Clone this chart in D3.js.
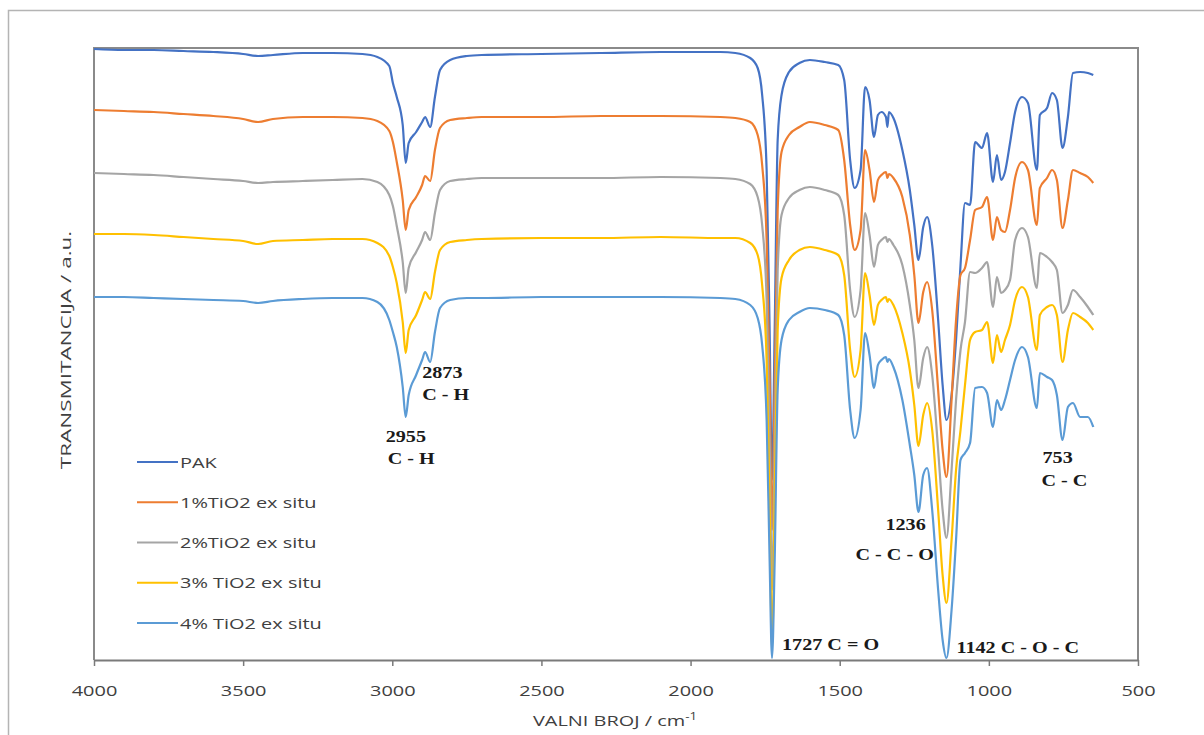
<!DOCTYPE html>
<html>
<head>
<meta charset="utf-8">
<script src="https://cdn.jsdelivr.net/npm/d3@7"></script>
<style>
  html, body { margin: 0; padding: 0; background: #ffffff; }
  svg { display: block; }
</style>
</head>
<body>
<svg id="chart" width="1204" height="735"></svg>
<script>
// ---- DATA ----
const wavenumbers = [
  4000, 3900, 3800, 3700, 3600, 3500, 3450, 3400, 3300, 3200,
  3100, 3050, 3010, 2998, 2985, 2965, 2955, 2945, 2920, 2900,
  2890, 2873, 2857, 2840, 2806, 2750, 2700, 2500, 2300, 2100,
  1900, 1850, 1800, 1775, 1760, 1745, 1735, 1727, 1718, 1708,
  1695, 1670, 1635, 1600, 1550, 1505, 1485, 1465, 1450, 1430,
  1415, 1400, 1385, 1372, 1360, 1345, 1340, 1335, 1320, 1290,
  1265, 1250, 1236, 1220, 1207, 1190, 1170, 1155, 1142, 1125,
  1110, 1095, 1080, 1063, 1046, 1023, 1006, 986, 973, 959,
  946, 929, 912, 889, 869, 839, 829, 805, 788, 772,
  753, 735, 718, 694, 668, 650
];

const pak = [
  61.1, 61.0, 61.0, 60.9, 60.8, 60.6, 60.4, 60.5, 60.7, 60.7,
  60.6, 60.3, 59.4, 57.7, 56.3, 53.5, 49.7, 51.7, 52.8, 53.8,
  54.3, 53.3, 56.3, 59.0, 60.0, 60.4, 60.5, 60.6, 60.7, 60.8,
  60.8, 60.7, 60.2, 59.2, 56.5, 49.0, 33.0, 18.0, 33.0, 52.0,
  56.5, 58.8, 59.7, 60.0, 59.8, 59.5, 58.0, 50.0, 47.2, 49.0,
  57.3, 56.0, 52.3, 54.5, 54.8, 54.3, 53.3, 54.8, 54.2, 51.0,
  47.0, 43.5, 40.0, 43.3, 44.3, 41.5, 34.0, 27.5, 24.0, 26.5,
  32.0, 39.5, 45.7, 45.5, 51.8, 51.2, 52.7, 47.8, 50.5, 48.0,
  48.8, 51.7, 54.8, 56.3, 55.7, 49.0, 54.5, 55.2, 56.7, 56.0,
  51.2, 54.3, 58.7, 58.8, 58.7, 58.5
];

const tio2_1 = [
  55.0, 54.9, 54.8, 54.6, 54.4, 54.1, 53.8, 54.1, 54.3, 54.3,
  54.2, 53.9, 52.9, 51.8, 49.8, 46.0, 43.0, 45.0, 46.3, 47.5,
  48.4, 47.9, 51.0, 53.2, 54.0, 54.2, 54.3, 54.3, 54.4, 54.4,
  54.3, 54.2, 53.8, 52.5, 49.5, 42.0, 28.0, 13.0, 27.0, 45.0,
  50.8, 52.5, 53.3, 53.8, 53.5, 53.0, 50.0, 43.5, 41.0, 43.0,
  51.0, 49.0, 45.8, 48.0, 48.5, 48.8, 48.2, 48.6, 48.2, 46.3,
  42.5, 38.5, 33.7, 36.8, 37.8, 35.0, 27.0, 21.0, 18.3, 26.0,
  34.0, 38.5, 39.2, 42.0, 45.0, 45.3, 46.3, 42.0, 44.3, 43.0,
  42.8, 45.0, 48.2, 49.8, 49.0, 43.5, 47.2, 48.2, 49.0, 48.0,
  43.2, 46.0, 49.0, 48.7, 48.3, 47.7
];

const tio2_2 = [
  48.7, 48.6, 48.5, 48.3, 48.1, 47.9, 47.7, 47.8, 47.9, 48.0,
  48.1, 47.8, 46.5, 45.4, 43.4, 39.8, 36.7, 39.2, 40.8, 42.0,
  42.8, 42.0, 44.7, 47.0, 47.9, 48.1, 48.2, 48.2, 48.2, 48.3,
  48.2, 48.1, 47.6, 46.3, 43.5, 36.0, 22.0, 7.0, 21.0, 39.0,
  44.5, 46.2, 47.0, 47.3, 47.0, 46.5, 44.5, 37.0, 34.3, 37.0,
  44.7, 42.5, 39.3, 41.5, 42.0, 42.3, 41.8, 42.1, 41.5, 39.5,
  35.5, 32.0, 27.2, 30.2, 31.3, 28.5, 21.0, 15.0, 12.2, 19.0,
  26.0, 31.0, 33.8, 38.8, 38.7, 39.2, 39.8, 35.3, 38.3, 36.7,
  37.0, 38.0, 42.0, 43.2, 42.3, 37.2, 40.7, 40.3, 39.8, 39.0,
  34.7, 35.5, 37.0, 36.3, 35.3, 34.5
];

const tio2_3 = [
  42.6, 42.6, 42.5, 42.3, 42.1, 41.9, 41.6, 41.9, 42.0, 42.1,
  42.1, 41.7, 40.4, 39.3, 37.7, 33.8, 30.7, 33.0, 34.5, 36.0,
  36.8, 36.1, 38.8, 41.0, 41.8, 42.0, 42.1, 42.2, 42.2, 42.3,
  42.2, 42.2, 41.7, 40.5, 37.5, 30.0, 16.0, 1.2, 16.0, 33.0,
  38.2, 40.0, 41.0, 41.3, 41.0, 40.5, 38.5, 31.0, 28.3, 31.0,
  38.7, 36.5, 33.5, 35.5, 36.0, 36.3, 35.8, 36.1, 35.5, 32.7,
  29.0, 25.5, 21.4, 24.5, 25.7, 23.0, 15.0, 8.5, 5.7, 12.0,
  19.0, 23.0, 27.5, 32.0, 32.8, 33.0, 33.8, 29.7, 32.5, 30.8,
  32.0, 33.5, 36.0, 37.3, 36.3, 31.0, 34.5, 35.3, 35.5, 34.5,
  29.8, 33.0, 34.7, 34.3, 33.7, 33.0
];

const tio2_4 = [
  36.3, 36.3, 36.2, 36.1, 36.0, 35.9, 35.7, 35.9, 36.1, 36.2,
  36.2, 35.8, 34.0, 32.8, 31.3, 27.3, 24.3, 26.5, 28.5, 30.0,
  30.8, 29.8, 32.8, 35.2, 36.0, 36.2, 36.2, 36.3, 36.3, 36.3,
  36.2, 36.1, 35.5, 34.2, 31.5, 24.0, 10.0, 0.2, 10.0, 27.0,
  32.0, 34.0, 34.8, 35.2, 35.0, 34.5, 32.5, 25.0, 22.2, 25.0,
  32.7, 30.5, 27.2, 29.5, 30.0, 30.3, 29.8, 30.1, 29.3, 26.0,
  21.5, 18.5, 14.8, 18.5, 19.2, 15.0, 7.0, 2.0, 0.2, 5.0,
  12.0, 20.0, 20.7, 21.7, 27.2, 27.3, 26.7, 23.3, 26.0, 25.0,
  26.0, 28.0, 30.0, 31.3, 30.3, 25.2, 28.7, 28.3, 28.0, 26.5,
  22.0, 25.3, 25.7, 24.3, 24.3, 23.3
];

const seriesNames = ["PAK", "1%TiO2 ex situ", "2%TiO2 ex situ", "3% TiO2 ex situ", "4% TiO2 ex situ"];
const seriesValues = [pak, tio2_1, tio2_2, tio2_3, tio2_4];
const seriesColors = ["#4472C4", "#ED7D31", "#A5A5A5", "#FFC000", "#5B9BD5"];
const xTicks = [4000, 3500, 3000, 2500, 2000, 1500, 1000, 500];

const annotations = [
  { lines: ["2873", "C - H"], wn: 2873, y: [28.2, 26.0] },
  { lines: ["2955", "C - H"], wn: 2955, y: [21.8, 19.6] },
  { lines: ["1236", "C - C - O"], wn: 1236, y: [13.0, 10.0] },
  { lines: ["753", "C - C"], wn: 753, y: [19.7, 17.4] },
  { lines: ["1727 C = O"], wn: 1727, y: [1.0] },
  { lines: ["1142 C - O - C"], wn: 1142, y: [0.7] }
];

// ---- LAYOUT ----
const svg = d3.select("#chart");
const M = { left: 94, right: 1138, top: 48, bottom: 660 };
const SX = 1.33; // horizontal stretch of the reference's lettering

const x = d3.scaleLinear().domain([4000, 500]).range([M.left, M.right]);
const y = d3.scaleLinear().domain([0, 61.2]).range([M.bottom, M.top]);

// outer chart frame
svg.append("rect")
  .attr("x", 8.5).attr("y", 10.5)
  .attr("width", 1210).attr("height", 740)
  .attr("fill", "#ffffff").attr("stroke", "#b4b4b4").attr("stroke-width", 1.5);

// plot border (left, top, right)
svg.append("path")
  .attr("d", `M${M.left},${M.bottom} V${M.top} H${M.right} V${M.bottom}`)
  .attr("fill", "none").attr("stroke", "#8a8a8a").attr("stroke-width", 2);

// series
const line = d3.line()
  .x(d => x(d[0]))
  .y(d => y(d[1]))
  .curve(d3.curveMonotoneX);

const plot = svg.append("g");
seriesValues.forEach((vals, i) => {
  const pts = wavenumbers.map((w, k) => [w, vals[k]]).filter(p => p[1] !== undefined);
  plot.append("path")
    .datum(pts)
    .attr("d", line)
    .attr("fill", "none")
    .attr("stroke", seriesColors[i])
    .attr("stroke-width", 2.2)
    .attr("stroke-linejoin", "round");
});

// x axis
const xAxis = d3.axisBottom(x).tickValues(xTicks).tickSize(6).tickSizeOuter(0).tickFormat(d3.format("d"));
const gx = svg.append("g").attr("transform", `translate(0,${M.bottom})`).call(xAxis);
gx.select(".domain").attr("stroke", "#7a7a7a").attr("stroke-width", 2);
gx.selectAll(".tick line").attr("stroke", "#7a7a7a").attr("stroke-width", 1.5);
gx.selectAll(".tick text")
  .attr("x", 0).attr("y", 36).attr("dy", 0)
  .attr("fill", "#404040")
  .style("font-family", "'Open Sans', sans-serif")
  .style("font-size", "15px")
  .attr("transform", `scale(${SX},1)`);

// x axis title
const xt = svg.append("text")
  .attr("transform", `translate(615,726) scale(${SX},1)`)
  .attr("text-anchor", "middle")
  .attr("fill", "#404040")
  .style("font-family", "'Open Sans', sans-serif")
  .style("font-size", "15px");
xt.append("tspan").text("VALNI BROJ / cm");
xt.append("tspan").text("-1").attr("dy", -6).style("font-size", "10px");

// y axis title
svg.append("text")
  .attr("transform", `translate(71,350) rotate(-90) scale(1.5,1)`)
  .attr("text-anchor", "middle")
  .attr("fill", "#404040")
  .style("font-family", "'Open Sans', sans-serif")
  .style("font-size", "15px")
  .text("TRANSMITANCIJA / a.u.");

// legend
const legend = svg.append("g");
const legendY = d3.scalePoint().domain(seriesNames).range([462, 623]);
seriesNames.forEach((name, i) => {
  const ly = legendY(name);
  legend.append("line")
    .attr("x1", 137).attr("x2", 178).attr("y1", ly).attr("y2", ly)
    .attr("stroke", seriesColors[i]).attr("stroke-width", 2.2);
  legend.append("text")
    .attr("transform", `translate(180,${ly + 5.5}) scale(${SX},1)`)
    .attr("fill", "#404040")
    .style("font-family", "'Open Sans', sans-serif")
    .style("font-size", "15px")
    .text(name);
});

// peak annotations
const annOffsets = { 2873: [-8, -8], 2955: [-20, -18], 1236: [-33, -63], 753: [-20, -21], 1727: [10], 1142: [10] };
annotations.forEach(a => {
  a.lines.forEach((t, j) => {
    const dx = annOffsets[a.wn][j];
    svg.append("text")
      .attr("transform", `translate(${x(a.wn) + dx},${y(a.y[j])}) scale(1.26,1)`)
      .attr("fill", "#1a1a1a")
      .style("font-family", "'Liberation Serif', 'Times New Roman', serif")
      .style("font-weight", "bold")
      .style("font-size", "16px")
      .text(t);
  });
});
</script>
</body>
</html>
